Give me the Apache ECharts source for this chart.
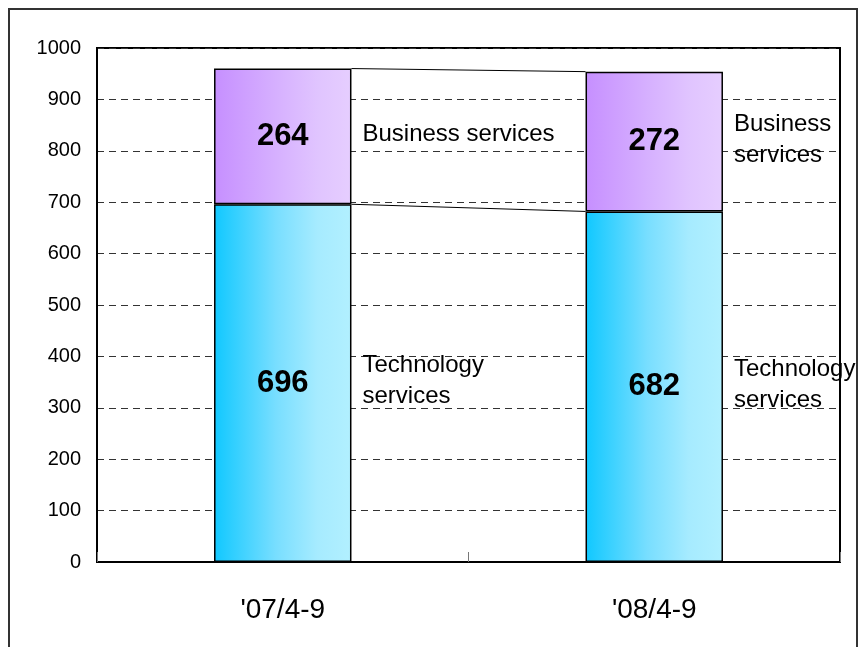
<!DOCTYPE html>
<html>
<head>
<meta charset="utf-8">
<script src="https://cdn.jsdelivr.net/npm/echarts@6/dist/echarts.min.js"></script>
<style>
html,body{margin:0;padding:0;background:#fff;}
#chart{width:860px;height:647px;}
</style>
</head>
<body>
<div id="chart"></div>
<script>
const categories = ["'07/4-9", "'08/4-9"];
const techValues = [696, 682];
const businessValues = [264, 272];
const techNames = ['Technology\nservices', 'Technology\nservices'];
const businessNames = ['Business services', 'Business\nservices'];
const yMin = 0, yMax = 1000, yStep = 100;

const FONT = '"Liberation Sans", Arial, sans-serif';
const BAR_RATIO = 0.37;

const totals = techValues.map((v, i) => v + businessValues[i]);
const connectorData = [
  [techValues[0], techValues[1]],
  [totals[0], totals[1]]
];
const nameData = [];
const nameTexts = [];
categories.forEach((c, i) => {
  nameData.push([i, techValues[i] / 2]);
  nameTexts.push(techNames[i]);
  nameData.push([i, techValues[i] + businessValues[i] / 2]);
  nameTexts.push(businessNames[i]);
});

const chart = echarts.init(document.getElementById('chart'), null, {renderer: 'canvas'});
const option = {
  backgroundColor: '#fff',
  animation: false,
  graphic: [{
    type: 'rect',
    shape: {x: 9, y: 9, width: 848, height: 660},
    style: {fill: 'none', stroke: '#333', lineWidth: 2},
    z: 100
  }],
  grid: {left: 97, right: 20, top: 48, bottom: 85, show: true, borderColor: '#000', borderWidth: 2, backgroundColor: 'transparent'},
  xAxis: {
    type: 'category',
    data: categories,
    boundaryGap: true,
    axisLine: {show: true, lineStyle: {color: '#000', width: 2}},
    axisTick: {show: true, inside: true, length: 10, interval: 0, lineStyle: {color: '#777', width: 1}},
    axisLabel: {fontFamily: FONT, fontSize: 28, color: '#000', margin: 34}
  },
  yAxis: {
    type: 'value',
    min: yMin, max: yMax, interval: yStep,
    axisLine: {show: true, lineStyle: {color: '#000', width: 2}},
    axisTick: {show: false},
    axisLabel: {fontFamily: FONT, fontSize: 20, color: '#000', margin: 16, formatter: function (v) { return String(v); }},
    splitLine: {show: true, lineStyle: {color: '#333', width: 1, type: [7, 5]}}
  },
  series: [
    {
      name: 'Technology services',
      type: 'bar',
      stack: 'total',
      data: techValues,
      barWidth: (BAR_RATIO * 100) + '%',
      itemStyle: {
        borderColor: '#000', borderWidth: 1.5,
        color: {type: 'linear', x: 0, y: 0, x2: 1, y2: 0, colorStops: [
          {offset: 0, color: '#10C8FF'},
          {offset: 0.45, color: '#78DEFF'},
          {offset: 0.75, color: '#A6EBFF'},
          {offset: 1, color: '#B2F0FF'}
        ]}
      },
      label: {show: true, position: 'inside', fontFamily: FONT, fontSize: 31, fontWeight: 'bold', color: '#000'},
      z: 3
    },
    {
      name: 'Business services',
      type: 'bar',
      stack: 'total',
      data: businessValues,
      barWidth: (BAR_RATIO * 100) + '%',
      itemStyle: {
        borderColor: '#000', borderWidth: 1.5,
        color: {type: 'linear', x: 0, y: 0, x2: 1, y2: 0, colorStops: [
          {offset: 0, color: '#C68FFF'},
          {offset: 0.45, color: '#D6B0FF'},
          {offset: 0.75, color: '#E0C4FF'},
          {offset: 1, color: '#E6CEFF'}
        ]}
      },
      label: {show: true, position: 'inside', fontFamily: FONT, fontSize: 31, fontWeight: 'bold', color: '#000'},
      z: 3
    },
    {
      type: 'custom',
      name: 'connectors',
      data: connectorData,
      encode: {y: [0, 1]},
      renderItem: function (params, api) {
        const p0 = api.coord([0, api.value(0)]);
        const p1 = api.coord([1, api.value(1)]);
        const half = api.size([1, 0])[0] * BAR_RATIO / 2;
        return {
          type: 'line',
          shape: {x1: p0[0] + half, y1: p0[1], x2: p1[0] - half, y2: p1[1]},
          style: {stroke: '#000', lineWidth: 1}
        };
      },
      z: 4
    },
    {
      type: 'custom',
      name: 'names',
      data: nameData,
      encode: {x: 0, y: 1},
      clip: false,
      renderItem: function (params, api) {
        const p = api.coord([api.value(0), api.value(1)]);
        const half = api.size([1, 0])[0] * BAR_RATIO / 2;
        return {
          type: 'text',
          x: p[0] + half + 11,
          y: p[1] - 2,
          style: {
            text: nameTexts[params.dataIndex],
            fontFamily: FONT,
            fontSize: 24,
            lineHeight: 31,
            fill: '#000',
            align: 'left',
            verticalAlign: 'middle'
          }
        };
      },
      z: 5
    }
  ]
};
chart.setOption(option);
</script>
</body>
</html>
